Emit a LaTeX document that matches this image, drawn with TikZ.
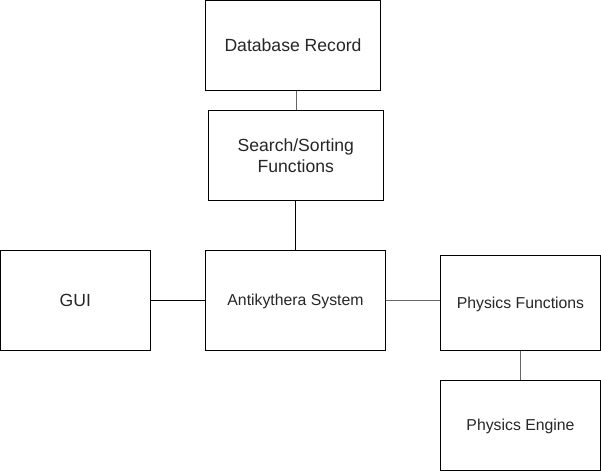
\documentclass[tikz,border=0pt]{standalone}
\usepackage{fontspec}
\setmainfont{Liberation Sans}
\begin{document}
\begin{tikzpicture}[x=1pt,y=-1pt,
  box/.style={draw=black, line width=1pt, inner sep=0pt, align=center, text=black!85},
  big/.style={font=\fontsize{17.6}{21}\selectfont},
  small/.style={font=\fontsize{15.8}{19}\selectfont},
  capsmall/.style={small, text height=11.3pt, text depth=0pt},
  capbig/.style={big, text height=12.6pt, text depth=0pt},
  link/.style={line width=1pt, draw=black},
  glink/.style={line width=1pt, draw=black!60}]
\useasboundingbox (0,0) rectangle (601,471);
\node[box,capbig,minimum width=175pt,minimum height=89.5pt] (db) at (293,45.25) {Database Record};
\node[box,big,minimum width=175pt,minimum height=90pt] (ss) at (295.8,155.3) {Search/Sorting\\Functions};
\node[box,capbig,minimum width=149.5pt,minimum height=100pt] (gui) at (75.25,300.3) {GUI};
\node[box,capsmall,minimum width=180pt,minimum height=100pt] (as) at (295.5,300.3) {Antikythera System};
\node[box,capsmall,minimum width=160pt,minimum height=95pt] (pf) at (520.5,302.5) {Physics Functions};
\node[box,capsmall,minimum width=160pt,minimum height=90pt] (pe) at (520.5,425.2) {Physics Engine};
\draw[glink] (db.south -| 296,0) -- (ss.north -| 296,0);
\draw[link] (ss.south -| 295.5,0) -- (as.north -| 295.5,0);
\draw[link] (gui.east) -- (as.west);
\draw[glink] (as.east |- 0,300) -- (pf.west |- 0,300);
\draw[glink] (pf.south) -- (pe.north);
\end{tikzpicture}
\end{document}
